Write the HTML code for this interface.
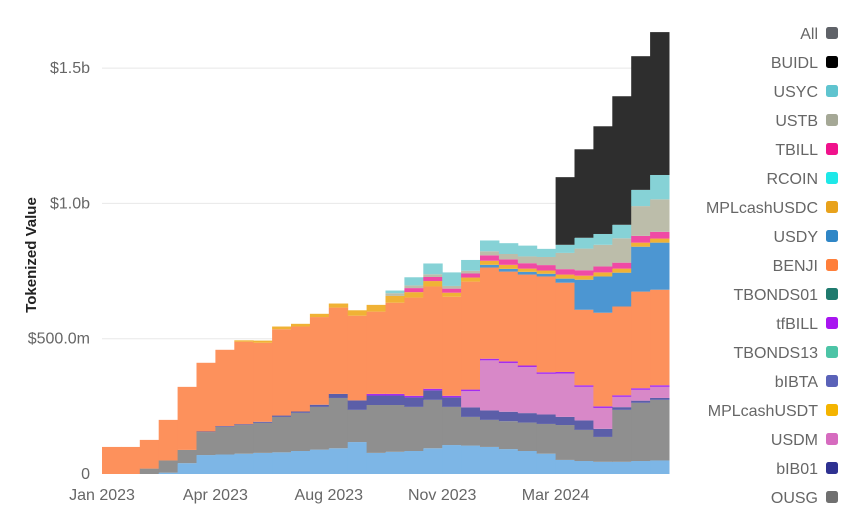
<!DOCTYPE html>
<html><head><meta charset="utf-8"><style>
body{margin:0;background:#fff;width:850px;height:506px;overflow:hidden;font-family:"Liberation Sans",sans-serif}
svg{display:block}
</style></head><body>
<svg id="chart" width="850" height="506">
<g id="grid"></g>
<g id="bars"></g>
<g id="yaxis"></g>
<g id="xaxis"></g>
<text transform="translate(36,255) rotate(-90)" text-anchor="middle" font-size="15" font-weight="bold" fill="#222">Tokenized Value</text>
<g id="legend"></g>
</svg>
<script>
const base   = [0,0,0,5,40,70,72,75,78,80,85,90,95,118,78,82,85,95,107,105,100,92,85,75,52,48,45,45,48,50];
const ousg   = [0,0,20,45,49,85,102,106,111,131,141,158,186,119,177,173,163,179,141,106,100,103,105,110,129,115,92,192,215,224];
const bib01  = [0,0,0,0,0,2,3,3,4,5,5,8,15,35,35,35,35,35,35,35,35,35,35,35,30,35,30,10,8,7];
const usdm   = [0,0,0,0,0,0,0,0,0,0,0,0,0,0,0,0,0,0,0,60,185,180,170,150,160,124,77,38,40,41];
const tfbill = [0,0,0,0,0,0,0,0,0,0,0,0,0,0,6,6,6,6,6,6,6,6,6,6,6,6,6,6,6,6];
const benji  = [100,100,106,150,233,254,282,305,292,319,314,324,319,313,304,337,363,378,366,399,337,332,336,354,330,279,346,328,357,353];
const usdy   = [0,0,0,0,0,0,0,0,0,0,0,0,0,0,0,0,0,0,0,0,10,10,10,10,15,111,134,125,166,174];
const mplusdc= [0,0,0,0,0,0,0,5,8,10,10,12,15,20,25,25,20,20,15,15,15,15,12,12,15,15,15,15,15,15];
const tbill  = [0,0,0,0,0,0,0,0,0,0,0,0,0,0,0,0,15,15,15,15,20,20,20,20,20,20,22,22,25,25];
const ustb   = [0,0,0,0,0,0,0,0,0,0,0,0,0,0,0,10,10,10,10,10,15,20,25,30,60,80,80,90,110,120];
const usyc   = [0,0,0,0,0,0,0,0,0,0,0,0,0,0,0,10,30,40,50,40,40,40,40,30,30,40,40,50,60,90];
const buidl  = [0,0,0,0,0,0,0,0,0,0,0,0,0,0,0,0,0,0,0,0,0,0,0,0,250,327,398,475,494,528];
const yTicks = [0,500,1000,1500];
const yTickLabels = ["0","$500.0m","$1.0b","$1.5b"];
const xTickIdx = [0,6,12,18,24];
const xTickLabels = ["Jan 2023","Apr 2023","Aug 2023","Nov 2023","Mar 2024"];
const legendNames = ["All","BUIDL","USYC","USTB","TBILL","RCOIN","MPLcashUSDC","USDY","BENJI","TBONDS01","tfBILL","TBONDS13","bIBTA","MPLcashUSDT","USDM","bIB01","OUSG"];
const legendColors = ["#5f6268","#000000","#5fc4cf","#a5a896","#f0128c","#1ee8e8","#e8a21c","#2f86c6","#ff7f3a","#1f7a6e","#a815f0","#4cc4a6","#5a62b8","#f4b400","#d66bbf","#2e3191","#707070"];

const NS="http://www.w3.org/2000/svg";
const x0=102,x1=669,y0=474,pxPerM=0.2706;
const n=base.length, bw=(x1-x0)/n;
const xs=i=>x0+i*bw;
const ys=v=>y0-v*pxPerM;
function mk(tag,attrs,parent){const e=document.createElementNS(NS,tag);for(const k in attrs)e.setAttribute(k,attrs[k]);parent.appendChild(e);return e;}

const layers=[[base,"#7db6e6","base"],[ousg,"#8f8f8f","ousg"],[bib01,"#5b5ea8","bib01"],[usdm,"#d888c8","usdm"],[tfbill,"#a52cf0","tfbill"],[benji,"#fd915c","benji"],[usdy,"#4c96d2","usdy"],[mplusdc,"#f0b235","mplcashusdc"],[tbill,"#f04aa5","tbill"],[ustb,"#bcbdaa","ustb"],[usyc,"#86d2d6","usyc"],[buidl,"#2e2e2e","buidl"]];

const grid=document.getElementById('grid'), ya=document.getElementById('yaxis');
yTicks.forEach((t,k)=>{
  if(t>0){const l=mk('line',{x1:x0,x2:x1,y1:ys(t),y2:ys(t),stroke:"#e8e8e8","stroke-width":1},grid);
  
  }
  const tx=mk('text',{x:90,y:ys(t)+5,"text-anchor":"end","font-size":16,fill:"#666"},ya);
  tx.textContent=yTickLabels[k];
  
  
});
const bars=document.getElementById('bars');
for(let i=0;i<n;i++){
  let cum=0;
  layers.forEach(([arr,col,nm])=>{
    const v=arr[i]; if(v<=0) return;
    const r=mk('rect',{x:xs(i),y:ys(cum+v),width:bw+0.5,height:v*pxPerM,fill:col},bars);
    
    
    cum+=v;
  });
}
const xa=document.getElementById('xaxis');
xTickIdx.forEach((ix,k)=>{
  const tx=mk('text',{x:xs(ix),y:500,"text-anchor":"middle","font-size":16,fill:"#666"},xa);
  tx.textContent=xTickLabels[k];
  
  
});
const lg=document.getElementById('legend');
legendNames.forEach((nm,k)=>{
  const y=33+k*29;
  const g=mk('g',{},lg);
  
  
  const t=mk('text',{x:818,y:y+6,"text-anchor":"end","font-size":16,fill:"#666"},g);
  t.textContent=nm;
  mk('rect',{x:826,y:y-6,width:12,height:12,rx:2.5,fill:legendColors[k]},g);
});
</script>
</body></html>
